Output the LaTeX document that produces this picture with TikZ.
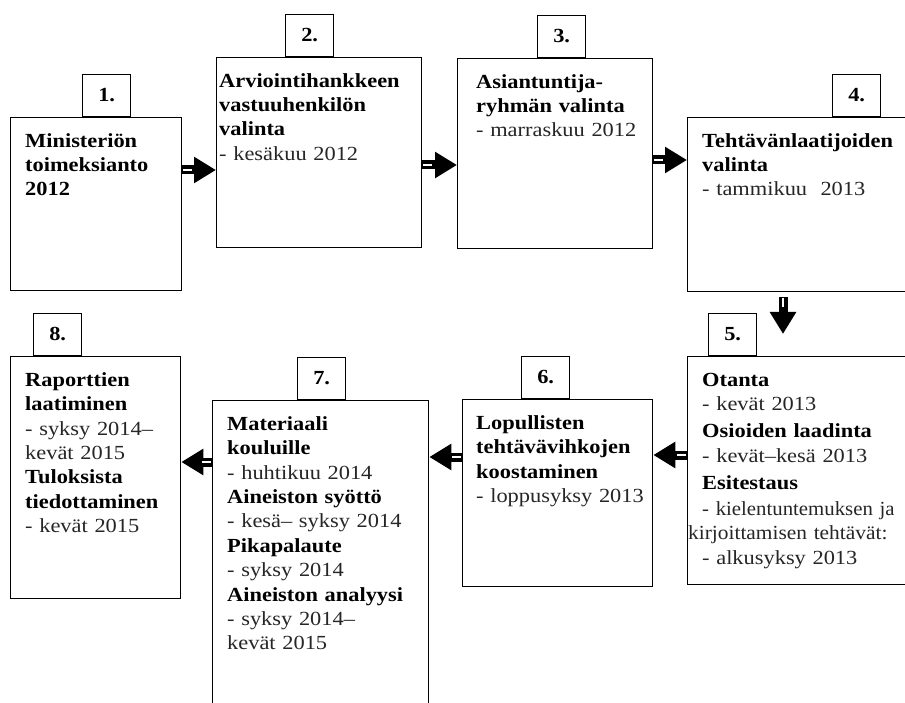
\documentclass[tikz,border=0pt]{standalone}
\usepackage{fontspec}
\setmainfont[FakeStretch=1.12]{Liberation Serif}
\usetikzlibrary{arrows.meta,calc}
\newcommand\flowarrow[2]{%
  \draw[flowline] (#1) -- (#2);
  \draw[flowgap] ($(#1)!1pt!(#2)$) -- ($(#1)!10pt!(#2)$);}
\newcommand\rg[1]{{\color{black!85}#1}}
\begin{document}
\begin{tikzpicture}[x=1pt,y=-1pt,
  box/.style={draw=black, line width=1.3pt, fill=white, inner sep=0pt, anchor=north west},
  lab/.style={draw=black, line width=1.3pt, fill=white, inner sep=0pt, anchor=south west,
              minimum width=48pt, minimum height=42pt, font=\fontsize{20}{24}\selectfont\bfseries},
  txt/.style={anchor=north west, inner sep=0pt, text width=320pt, align=left,
              font=\fontsize{20}{24.4}\selectfont},
  flowline/.style={draw=black, line width=9pt, -{Triangle[length=22pt,width=25pt]}},
  flowgap/.style={draw=white, line width=1.6pt}]
\useasboundingbox (0,0) rectangle (905,703);
% boxes
\node[box, minimum width=171pt, minimum height=173pt] (b1) at (10,117) {};
\node[box, minimum width=205pt, minimum height=190pt] (b2) at (216,57) {};
\node[box, minimum width=195pt, minimum height=190pt] (b3) at (457,58) {};
\node[box, minimum width=235pt, minimum height=174pt] (b4) at (687,117) {};
\node[box, minimum width=235pt, minimum height=228pt] (b5) at (687,356) {};
\node[box, minimum width=190pt, minimum height=187pt] (b6) at (462,399) {};
\node[box, minimum width=216pt, minimum height=330pt] (b7) at (212,400) {};
\node[box, minimum width=170pt, minimum height=242pt] (b8) at (10,356) {};
% number labels
\node[lab] (l1) at (82,117) {1.};
\node[lab] (l2) at (285,57) {2.};
\node[lab] (l3) at (537,58) {3.};
\node[lab] (l4) at (832,117) {4.};
\node[lab] (l5) at (708,356) {5.};
\node[lab] (l6) at (521,399) {6.};
\node[lab] (l7) at (297,400) {7.};
\node[lab] (l8) at (33,356) {8.};
% texts
\node[txt] (t1) at (25,130) {\rule{0pt}{17pt}\textbf{Ministeriön}\\ \textbf{toimeksianto}\\ \textbf{2012}};
\node[txt] (t2) at (219,70) {\rule{0pt}{17pt}\textbf{Arviointihankkeen}\\ \textbf{vastuuhenkilön}\\ \textbf{valinta}\\ \rg{- kesäkuu 2012}};
\node[txt] (t3) at (476,71) {\rule{0pt}{17pt}\textbf{Asiantuntija-}\\ \textbf{ryhmän valinta}\\ \rg{- marraskuu 2012}};
\node[txt] (t4) at (702,130) {\rule{0pt}{17pt}\textbf{Tehtävänlaatijoiden}\\ \textbf{valinta}\\ \rg{- tammikuu\ \ 2013}};
\node[txt] (t5) at (702,369) {\rule{0pt}{17pt}\textbf{Otanta}\\ \rg{- kevät 2013}\\[3pt]\textbf{Osioiden laadinta}\\ \rg{- kevät–kesä 2013}\\[3pt]\textbf{Esitestaus}\\[1pt]\rg{\addfontfeature{FakeStretch=1.04}- kielentuntemuksen ja}\\\hspace*{-14pt}\rg{\addfontfeature{FakeStretch=1.07}kirjoittamisen tehtävät:}\\ \rg{- alkusyksy 2013}};
\node[txt] (t6) at (476,412) {\rule{0pt}{17pt}\textbf{Lopullisten}\\ \textbf{tehtävävihkojen}\\ \textbf{koostaminen}\\ \rg{- loppusyksy 2013}};
\node[txt] (t7) at (227,413) {\rule{0pt}{17pt}\textbf{Materiaali}\\ \textbf{kouluille}\\ \rg{- huhtikuu 2014}\\ \textbf{Aineiston syöttö}\\ \rg{- kesä– syksy 2014}\\ \textbf{Pikapalaute}\\ \rg{- syksy 2014}\\ \textbf{Aineiston analyysi}\\ \rg{- syksy 2014–}\\ \rg{kevät 2015}};
\node[txt] (t8) at (25,369) {\rule{0pt}{17pt}\textbf{Raporttien}\\ \textbf{laatiminen}\\ \rg{- syksy 2014–}\\ \rg{kevät 2015}\\ \textbf{Tuloksista}\\ \textbf{tiedottaminen}\\ \rg{- kevät 2015}};
% connector end points
\coordinate (a12) at (b1.east |- 0,170);
\coordinate (e12) at (b2.west |- 0,170);
\coordinate (a23) at (b2.east |- 0,165);
\coordinate (e23) at (b3.west |- 0,165);
\coordinate (a34) at (b3.east |- 0,160);
\coordinate (e34) at (b4.west |- 0,160);
\coordinate (a45) at (783,297);
\coordinate (e45) at (783,334);
\coordinate (a56) at (b5.west |- 0,455);
\coordinate (e56) at (b6.east |- 0,455);
\coordinate (a67) at (b6.west |- 0,457);
\coordinate (e67) at (b7.east |- 0,457);
\coordinate (a78) at (b7.west |- 0,462);
\coordinate (e78) at (b8.east |- 0,462);
% connectors
\flowarrow{a12}{e12}
\flowarrow{a23}{e23}
\flowarrow{a34}{e34}
\flowarrow{a45}{e45}
\flowarrow{a56}{e56}
\flowarrow{a67}{e67}
\flowarrow{a78}{e78}
\end{tikzpicture}
\end{document}
